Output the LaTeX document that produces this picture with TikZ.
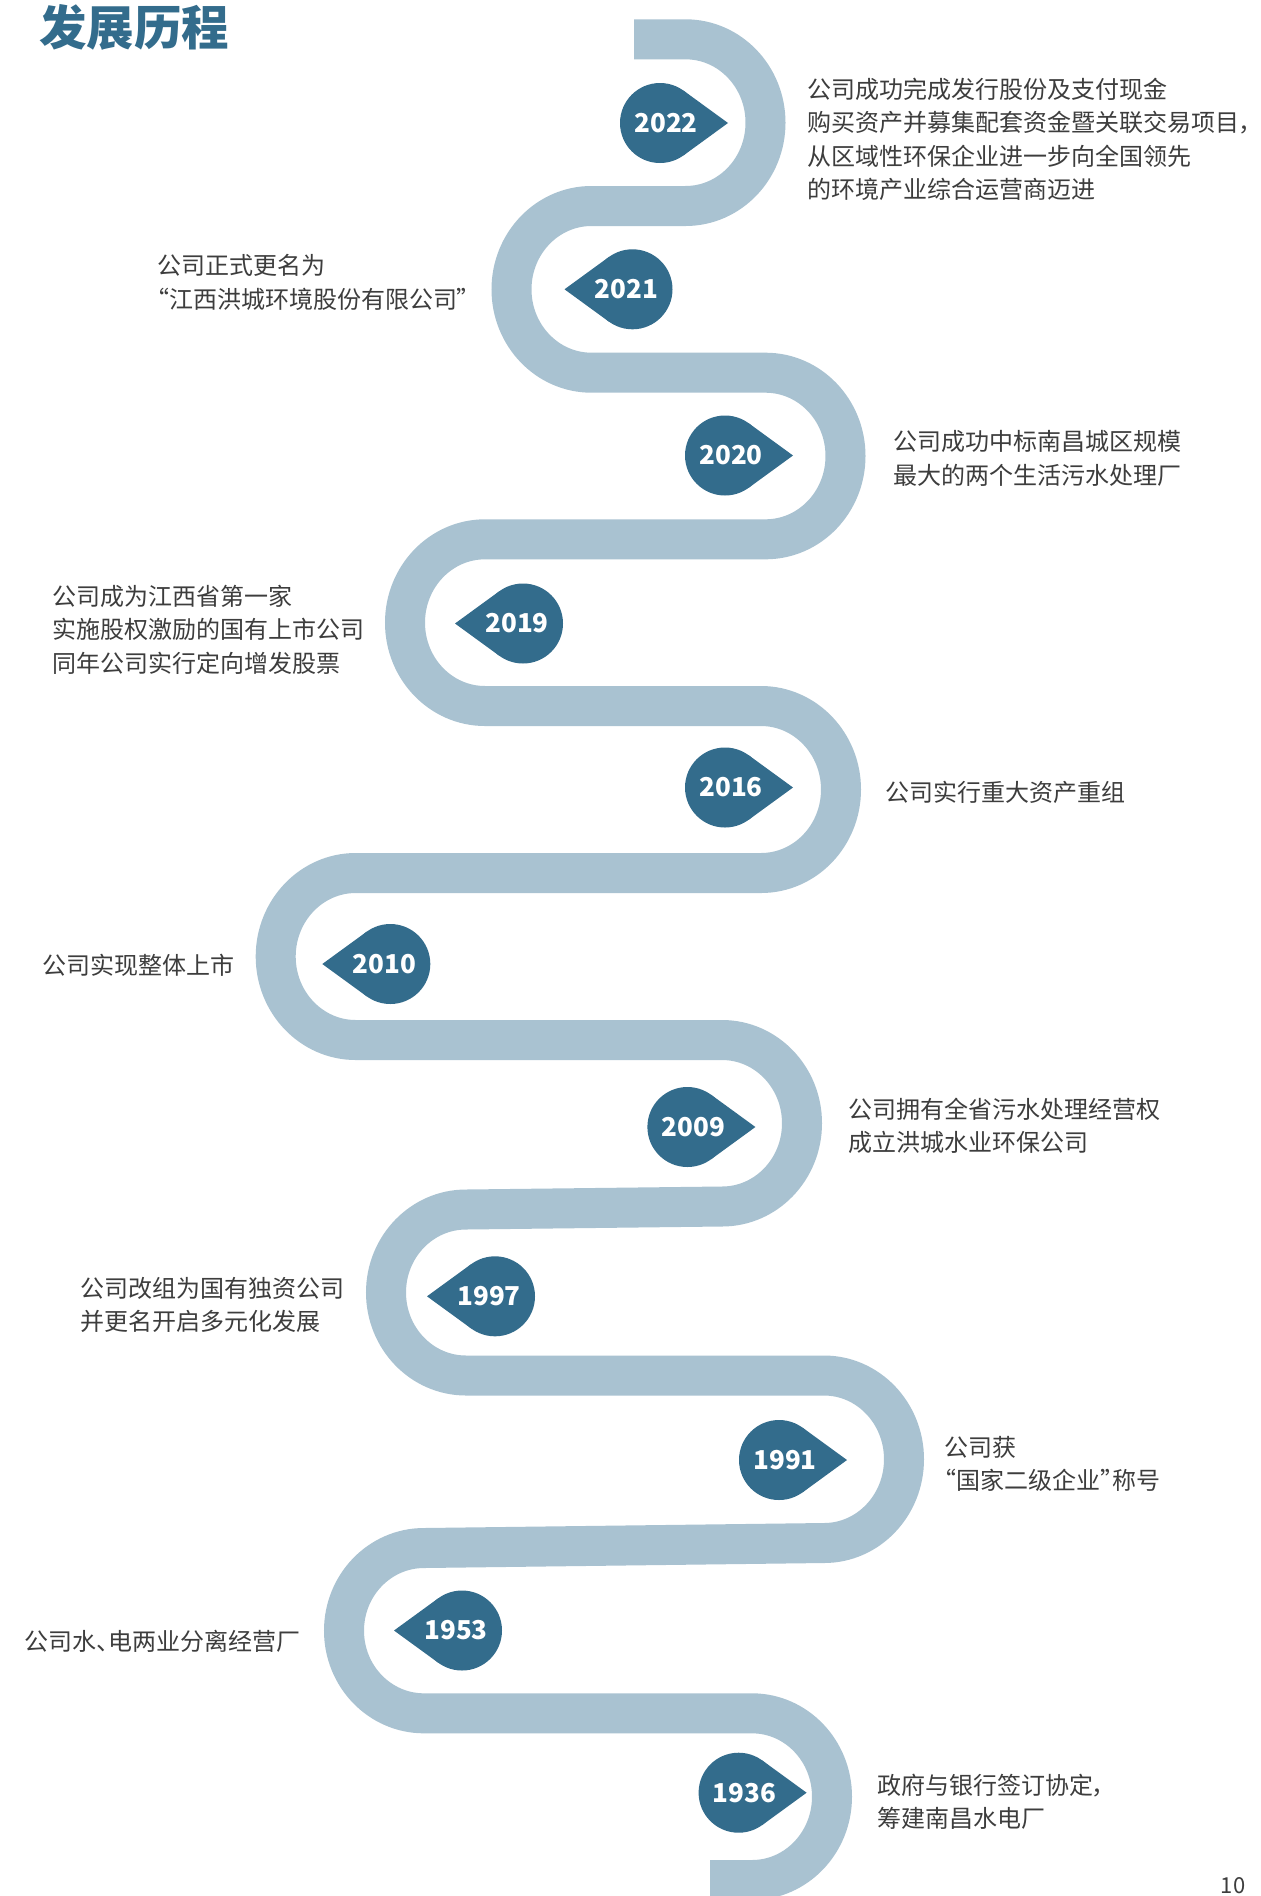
\documentclass[tikz,border=0pt]{standalone}
\usepackage{fontspec}
\setmainfont{Noto Sans CJK SC}[RawFeature=+palt]
\definecolor{bandc}{HTML}{A9C2D1}
\definecolor{markc}{HTML}{336C8C}
\definecolor{txtc}{HTML}{3D3D3D}
\tikzset{
  desc/.style={anchor=west, align=left, inner sep=0pt, text=txtc, font=\fontsize{12}{16.67}\selectfont},
  yr/.style={inner sep=0pt, text=white, font=\fontsize{13}{15}\selectfont\bfseries},
  bandline/.style={draw=bandc, line width=20pt},
}
\newcommand\pinR[4]{%
 \fill[markc] (#2,#3) circle[radius=20pt];
 \fill[markc] (#2,#3) -- ({#2+23.5},{#3-32.4}) -- ({#2+68},#3) -- ({#2+23.5},{#3+32.4}) -- cycle;
 \node[yr] (#1) at ({#2+6},#3) {#4};}
\newcommand\pinL[4]{%
 \fill[markc] (#2,#3) circle[radius=20pt];
 \fill[markc] (#2,#3) -- ({#2-23.5},{#3-32.4}) -- ({#2-68},#3) -- ({#2-23.5},{#3+32.4}) -- cycle;
 \node[yr] (#1) at ({#2-6},#3) {#4};}
\begin{document}
\begin{tikzpicture}[x=0.5pt,y=-0.5pt]
\useasboundingbox (0,0) rectangle (1261,1896);
\fill[white] (0,0) rectangle (1261,1896);
% serpentine band
\draw[bandline] (634,39.3) -- (685.5,39.3)
 .. controls (729.7,39.3) and (765.5,76.6) .. (765.5,122.65)
 .. controls (765.5,168.7) and (729.7,206) .. (685.5,206)
 -- (591.5,206)
 .. controls (547.3,206) and (511.5,243.3) .. (511.5,289.35)
 .. controls (511.5,335.4) and (547.3,372.7) .. (591.5,372.7)
 -- (765.5,372.7)
 .. controls (809.7,372.7) and (845.5,410) .. (845.5,456)
 .. controls (845.5,502) and (809.7,539.3) .. (765.5,539.3)
 -- (485,539.3)
 .. controls (440.8,539.3) and (405,576.6) .. (405,622.65)
 .. controls (405,668.7) and (440.8,706) .. (485,706)
 -- (761,706)
 .. controls (805.2,706) and (841,743.4) .. (841,789.5)
 .. controls (841,835.6) and (805.2,873) .. (761,873)
 -- (355.7,873)
 .. controls (311.5,873) and (275.7,910.4) .. (275.7,956.5)
 .. controls (275.7,1002.6) and (311.5,1040) .. (355.7,1040)
 -- (722,1040)
 .. controls (766.2,1040) and (802,1077.25) .. (802,1123.25)
 .. controls (802,1169.25) and (766.2,1206.5) .. (722,1206.5)
 -- (466,1209.5)
 .. controls (421.8,1209.5) and (386,1246.7) .. (386,1292.5)
 .. controls (386,1338.3) and (421.8,1375.5) .. (466,1375.5)
 -- (824,1375.5)
 .. controls (868.2,1375.5) and (904,1413) .. (904,1459.25)
 .. controls (904,1505.5) and (868.2,1543) .. (824,1543)
 -- (424,1548)
 .. controls (379.8,1548) and (344,1585) .. (344,1630.65)
 .. controls (344,1676.3) and (379.8,1713.3) .. (424,1713.3)
 -- (752,1713.3)
 .. controls (796.2,1713.3) and (832,1750.65) .. (832,1796.65)
 .. controls (832,1842.7) and (796.2,1880) .. (752,1880)
 -- (710,1880);
% title
\node[anchor=west, inner sep=0pt, text=markc, font=\fontsize{23.75}{28}\selectfont\bfseries] (title) at (39,27) {发展历程};
% markers
\pinR{y2022}{660}{123}{2022}
\pinL{y2021}{632.5}{289.3}{2021}
\pinR{y2020}{725}{455.5}{2020}
\pinL{y2019}{523}{623.5}{2019}
\pinR{y2016}{725}{787.5}{2016}
\pinL{y2010}{390.3}{964}{2010}
\pinR{y2009}{687.4}{1127}{2009}
\pinL{y1997}{495}{1296.3}{1997}
\pinR{y1991}{779}{1460}{1991}
\pinL{y1953}{462}{1630.5}{1953}
\pinR{y1936}{738.6}{1792.7}{1936}
% descriptions
\node[desc] (d2022) at (807.5,139.3) {公司成功完成发行股份及支付现金\\购买资产并募集配套资金暨关联交易项目，\\从区域性环保企业进一步向全国领先\\的环境产业综合运营商迈进};
\node[desc] (d2021) at (156.8,282.5) {公司正式更名为\\“江西洪城环境股份有限公司”};
\node[desc] (d2020) at (892.7,458.4) {公司成功中标南昌城区规模\\最大的两个生活污水处理厂};
\node[desc] (d2019) at (52.3,629.6) {公司成为江西省第一家\\实施股权激励的国有上市公司\\同年公司实行定向增发股票};
\node[desc] (d2016) at (884.7,792.7) {公司实行重大资产重组};
\node[desc] (d2010) at (41.8,965) {公司实现整体上市};
\node[desc] (d2009) at (848.5,1125.5) {公司拥有全省污水处理经营权\\成立洪城水业环保公司};
\node[desc] (d1997) at (80.4,1305) {公司改组为国有独资公司\\并更名开启多元化发展};
\node[desc] (d1991) at (944,1464.2) {公司获\\“国家二级企业”称号};
\node[desc] (d1953) at (24.3,1641.7) {公司水、电两业分离经营厂};
\node[desc] (d1936) at (877,1801.6) {政府与银行签订协定，\\筹建南昌水电厂};
% page number
\node[anchor=base, inner sep=0pt, text=txtc, font=\fontsize{11}{13}\selectfont] (pageno) at (1233,1893) {10};
\end{tikzpicture}
\end{document}
